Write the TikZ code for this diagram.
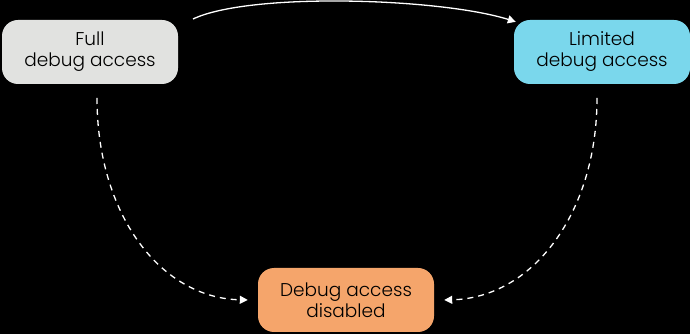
\documentclass[tikz,border=0pt]{standalone}
\usepackage{fontspec}
\setmainfont{Poppins}[UprightFont=* Light]
\usetikzlibrary{arrows.meta}
\definecolor{fullgrey}{HTML}{E1E2E0}
\definecolor{limcyan}{HTML}{7AD7EC}
\definecolor{disorange}{HTML}{F5A56B}
\begin{document}
\begin{tikzpicture}[x=1pt,y=1pt,
  state/.style={rounded corners=16pt, minimum width=176pt, minimum height=64pt,
    align=center, font=\fontsize{18.5}{21}\selectfont, text=black, inner sep=0pt},
  flow/.style={draw=white, line width=1.3pt, -{Triangle[length=8pt,width=8pt]}},
  dashflow/.style={flow, dash pattern=on 6pt off 5pt}]
  \fill[black] (0,0) rectangle (690,334);
  \useasboundingbox (0,0) rectangle (690,334);
  \node[state, fill=fullgrey] (full) at (90,282) {Full\\debug access};
  \node[state, fill=limcyan] (lim) at (602,282) {Limited\\debug access};
  \node[state, fill=disorange] (dis) at (346,34) {Debug access\\disabled};
  \coordinate (fs) at (193,315);
  \coordinate (ls) at (97,236);
  \coordinate (rs) at (597,236);
  \draw[flow] (fs) .. controls (250,342) and (440,336) .. ([xshift=2pt,yshift=-2pt]lim.north west);
  \draw[dashflow] (ls) .. controls (97,120) and (160,36) .. ([xshift=-10pt]dis.west);
  \draw[dashflow] (rs) .. controls (597,120) and (532,36) .. ([xshift=10pt]dis.east);
\end{tikzpicture}
\end{document}
